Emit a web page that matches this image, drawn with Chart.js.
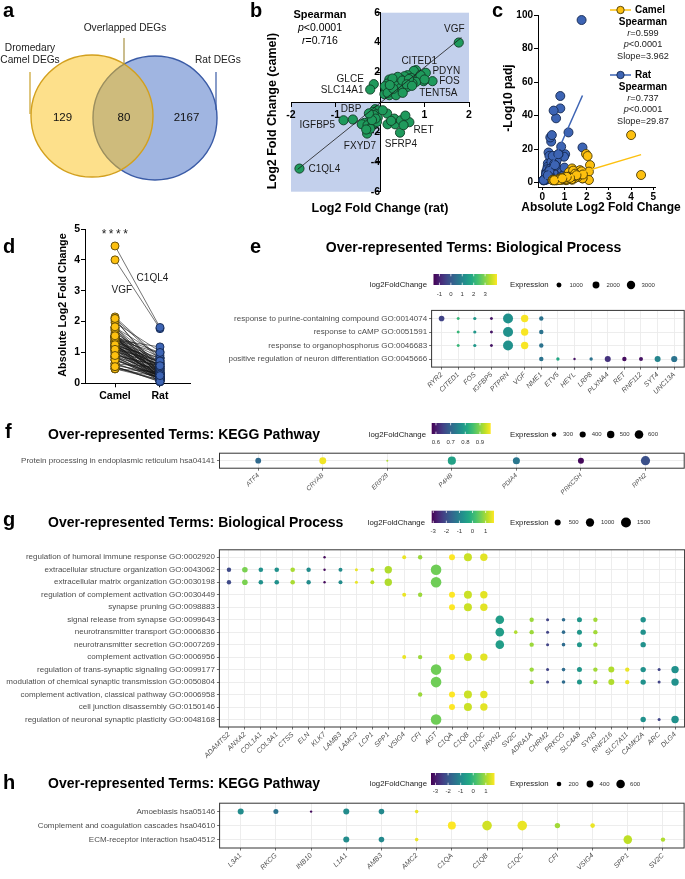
<!DOCTYPE html>
<html><head><meta charset="utf-8">
<script src="https://cdn.jsdelivr.net/npm/chart.js@4.4.1/dist/chart.umd.min.js"></script>
<style>
html,body{margin:0;padding:0;background:#fff;}
#page{position:relative;width:685px;height:879px;overflow:hidden;font-family:'Liberation Sans',Arial,Helvetica,sans-serif;background:#fff;}
canvas{position:absolute;}
.t{position:absolute;white-space:nowrap;}
</style></head><body><div id="page"></div>
<script>
// ================= DATA =================
// a: Venn
const vennSets = ['Dromedary Camel DEGs', 'Overlapped DEGs', 'Rat DEGs'];
const vennCounts = [129, 80, 2167]; // camel only, overlapped, rat only

// b/c/d: the 80 overlapped DEGs (same order in every array)
const labelledGenes = ['VGF','C1QL4','GLCE','SLC14A1','CITED1','PDYN','FOS','TENT5A','IGFBP5','DBP','FXYD7','SFRP4','RET'];
const ratLFC = [1.77,-1.81,-0.14,-0.22,0.81,1.03,1.18,0.98,-0.82,-0.61,-0.29,0.45,0.66,
 0.76,0.62,0.55,0.70,0.85,0.91,0.47,0.40,0.55,0.66,0.81,0.21,0.17,0.28,0.36,0.43,0.55,0.25,0.13,0.10,0.32,0.47,0.21,0.36,0.62,0.73,0.32,0.40,0.28,0.11,0.51,0.17,1.00,0.50,0.65,0.30,0.60,0.22,
 -0.11,-0.05,-0.16,-0.09,-0.20,-0.05,-0.13,-0.24,-0.35,-0.41,-0.28,-0.16,-0.22,-0.31,-0.07,-0.14,-0.10,-0.18,-0.25,
 0.16,0.17,0.34,0.32,0.47,0.53,0.06,0.25,0.72,0.57];
const camelLFC = [4.00,-4.45,1.21,0.85,2.15,1.97,1.41,1.41,-1.21,-1.16,-2.10,-2.04,-1.34,
 2.10,1.81,1.74,1.63,1.52,1.81,1.52,1.30,1.30,1.36,1.36,1.52,1.25,1.07,0.98,0.85,0.92,0.76,0.85,0.54,0.58,1.14,0.47,0.47,1.03,1.25,1.36,1.70,1.59,1.07,0.63,0.63,1.52,1.45,1.55,0.90,1.20,1.15,
 -0.47,-0.54,-0.65,-0.81,-0.98,-1.03,-1.16,-1.25,-1.39,-1.48,-1.54,-1.48,-1.77,-1.83,-1.32,-0.87,-1.10,-1.20,-0.75,
 -0.76,-1.48,-1.48,-1.10,-1.21,-1.54,-0.54,-1.25,1.10,-0.90];
const camelNegLog10Padj = [28.4,4.6,3.2,2.1,10.5,17.1,5.6,3.6,4.6,3.6,6.6,15.9,8.5,
 1.6,2.6,5.6,6.6,3.6,2.6,4.6,2.0,5.0,3.0,1.8,6.0,2.4,1.5,3.2,2.8,1.9,2.2,1.7,1.4,1.6,4.2,1.5,1.8,2.5,3.8,4.8,7.5,3.4,2.0,1.7,1.4,5.0,3.0,4.0,2.3,6.2,2.7,
 1.5,1.6,1.9,2.2,2.5,3.0,3.4,4.0,7.2,4.4,3.8,2.9,6.8,4.9,2.1,2.6,1.8,3.3,2.0,
 1.6,3.9,5.4,2.4,3.1,4.5,1.5,2.9,3.5,2.6];
const ratNegLog10Padj = [97,21,2.5,3.8,51.7,17,30,15.5,7.5,13.5,6.0,9.5,5.5,
 3.6,38.4,10.5,7.0,21.5,4.0,3.0,24.5,6.5,8.0,44.3,2.0,6.5,18,27,28.4,5.0,11.5,1.6,1.5,9.0,4.5,2.4,3.2,12.0,17,16,5.0,8.5,1.8,43,3.0,9.0,6.0,13.5,4.0,10.0,7.0,
 2.0,1.4,3.5,2.2,5.0,1.5,2.8,9.5,4.2,12.5,6.8,3.3,8.0,5.5,1.7,2.6,1.9,4.8,6.0,
 3.8,5.0,8.2,7.0,16,11,1.6,4.4,17,10.5];

const bStats = {r: 0.716, p: '<0.0001'};
const bFit = {slope: 2.4, intercept: -0.06};
const cCamelStats = {r: 0.599, p: '<0.0001', slope: 3.962, intercept: -0.9};
const cRatStats = {r: 0.737, p: '<0.0001', slope: 29.87, intercept: -2.1};
const bTicksX = [-2, -1, 1, 2];
const bTicksY = [-6, -4, -2, 2, 4, 6];
const cTicksX = [0, 1, 2, 3, 4, 5];
const cTicksY = [0, 20, 40, 60, 80, 100];
const dTicksY = [0, 1, 2, 3, 4, 5];
const dGroups = ['Camel', 'Rat'];

// e: GO biological process (overlapped DEGs)
const eGenes = ['RYR2','CITED1','FOS','IGFBP5','PTPRN','VGF','NME1','ETV5','HEYL','LRP8','PLXNA4','RET','RNF112','SYT4','UNC13A'];
const eLog2FC = [-0.4,2.15,1.41,-1.21,1.26,4.0,0.6,1.8,-1.25,0.6,-0.7,-1.34,-1.25,1.0,0.6];
const eExpr = [1280,324,380,324,4330,2300,760,430,190,430,1480,760,620,1480,1590];
const eTerms = ['response to purine-containing compound GO:0014074','response to cAMP GO:0051591','response to organophosphorus GO:0046683','positive regulation of neuron differentiation GO:0045666'];
const eTermGenes = [
  ['RYR2','CITED1','FOS','IGFBP5','PTPRN','VGF','NME1'],
  ['CITED1','FOS','IGFBP5','PTPRN','VGF','NME1'],
  ['CITED1','FOS','IGFBP5','PTPRN','VGF','NME1'],
  ['NME1','ETV5','HEYL','LRP8','PLXNA4','RET','RNF112','SYT4','UNC13A']];
const eColorTicks = [-1, 0, 1, 2, 3];
const eSizeTicks = [1000, 2000, 3000];

// f: KEGG
const fGenes = ['ATF4','CRYAB','ERP29','P4HB','PDIA4','PRKCSH','RPN2'];
const fLog2FC = [0.71,0.965,0.925,0.80,0.73,0.58,0.67];
const fExpr = [380,460,160,560,470,390,650];
const fTerms = ['Protein processing in endoplasmic reticulum hsa04141'];
const fTermGenes = [['ATF4','CRYAB','ERP29','P4HB','PDIA4','PRKCSH','RPN2']];
const fColorTicks = [0.6, 0.7, 0.8, 0.9];
const fSizeTicks = [300, 400, 500, 600];

// g: GO biological process
const gGenes = ['ADAMTS2','ANXA2','COL1A1','COL3A1','CTSS','ELN','KLK7','LAMB3','LAMC2','LCP1','SPP1','VSIG4','CFI','AGT','C1QA','C1QB','C1QC','NRXN2','SV2C','ADRA1A','CHRM2','PRKCG','SLC4A8','SYN3','RNF216','SLC7A11','CAMK2A','ARC','DLG4'];
const gLog2FC = [-2.07,0.69,-0.74,-0.74,1.02,-0.84,-3.0,-0.84,1.5,1.16,1.07,1.5,0.93,0.59,1.64,1.26,1.45,-0.5,1.07,0.93,-2.17,-1.45,-0.64,0.97,1.07,1.5,-0.74,-2.17,-0.74];
const gExpr = [250,430,277,277,277,250,58,200,102,200,790,200,250,1700,500,935,790,1090,157,250,102,157,334,250,500,250,397,102,790];
const gTerms = ['regulation of humoral immune response GO:0002920','extracellular structure organization GO:0043062','extracellular matrix organization GO:0030198','regulation of complement activation GO:0030449','synapse pruning GO:0098883','signal release from synapse GO:0099643','neurotransmitter transport GO:0006836','neurotransmitter secretion GO:0007269','complement activation GO:0006956','regulation of trans-synaptic signaling GO:0099177','modulation of chemical synaptic transmission GO:0050804','complement activation, classical pathway GO:0006958','cell junction disassembly GO:0150146','regulation of neuronal synaptic plasticity GO:0048168'];
const gTermGenes = [
  ['KLK7','VSIG4','CFI','C1QA','C1QB','C1QC'],
  ['ADAMTS2','ANXA2','COL1A1','COL3A1','CTSS','ELN','KLK7','LAMB3','LAMC2','LCP1','SPP1','AGT'],
  ['ADAMTS2','ANXA2','COL1A1','COL3A1','CTSS','ELN','KLK7','LAMB3','LAMC2','LCP1','SPP1','AGT'],
  ['VSIG4','CFI','C1QA','C1QB','C1QC'],
  ['C1QA','C1QB','C1QC'],
  ['NRXN2','ADRA1A','CHRM2','PRKCG','SLC4A8','SYN3','CAMK2A'],
  ['NRXN2','SV2C','ADRA1A','CHRM2','PRKCG','SLC4A8','SYN3','CAMK2A'],
  ['NRXN2','ADRA1A','CHRM2','PRKCG','SLC4A8','SYN3','CAMK2A'],
  ['VSIG4','CFI','C1QA','C1QB','C1QC'],
  ['AGT','ADRA1A','CHRM2','PRKCG','SLC4A8','SYN3','RNF216','SLC7A11','CAMK2A','ARC','DLG4'],
  ['AGT','ADRA1A','CHRM2','PRKCG','SLC4A8','SYN3','RNF216','SLC7A11','CAMK2A','ARC','DLG4'],
  ['CFI','C1QA','C1QB','C1QC'],
  ['C1QA','C1QB','C1QC'],
  ['AGT','CAMK2A','ARC','DLG4']];
const gColorTicks = [-3, -2, -1, 0, 1];
const gSizeTicks = [500, 1000, 1500];

// h: KEGG
const hGenes = ['L3A1','RKCG','INB10','L1A1','AMB3','AMC2','C1QA','C1QB','C1QC','CFI','VSIG4','SPP1','SV2C'];
const hLog2FC = [-0.94,-1.44,-3.2,-0.94,-1.0,1.54,1.69,1.34,1.54,0.98,1.54,1.19,1.08];
const hExpr = [317,232,70,317,279,132,528,737,737,262,199,600,184];
const hTerms = ['Amoebiasis hsa05146','Complement and coagulation cascades hsa04610','ECM-receptor interaction hsa04512'];
const hTermGenes = [
  ['L3A1','RKCG','INB10','L1A1','AMB3','AMC2'],
  ['C1QA','C1QB','C1QC','CFI','VSIG4'],
  ['L1A1','AMB3','AMC2','SPP1','SV2C']];
const hColorTicks = [-3, -2, -1, 0, 1];
const hSizeTicks = [200, 400, 600];

// ================= HELPERS =================
const FONT = "'Liberation Sans', Arial, Helvetica, sans-serif";
Chart.defaults.font.family = FONT;
Chart.defaults.color = '#000';
const page = document.getElementById('page');

function mkCanvas(R) {
  const c = document.createElement('canvas');
  c.width = R.w; c.height = R.h;
  Object.assign(c.style, {left: R.x + 'px', top: R.y + 'px', width: R.w + 'px', height: R.h + 'px'});
  page.appendChild(c);
  return c;
}
function T(html, x, y, o = {}) {
  const s = o.size || 10;
  const d = document.createElement('div');
  d.className = 't';
  d.innerHTML = html;
  d.style.fontSize = s + 'px';
  d.style.lineHeight = s + 'px';
  if (o.bold) d.style.fontWeight = 'bold';
  if (o.italic) d.style.fontStyle = 'italic';
  d.style.color = o.color || '#000';
  if (o.ls) d.style.letterSpacing = o.ls + 'px';
  d.style.left = x + 'px';
  if (o.rotate) {
    d.style.top = y + 'px';
    d.style.transform = `translate(-50%,-50%) rotate(${o.rotate}deg)`;
  } else {
    d.style.top = (y - 0.8465 * s) + 'px';
    const ax = o.align === 'center' ? '-50%' : (o.align === 'right' ? '-100%' : '0');
    d.style.transform = `translateX(${ax})`;
  }
  page.appendChild(d);
}
const BASE = () => ({responsive: false, maintainAspectRatio: false, animation: false, devicePixelRatio: 1, events: [],
  plugins: {legend: {display: false}, tooltip: {enabled: false}}});
const LAYOUT = p => ({autoPadding: false, padding: p});

const VIR = ['#440154','#482475','#414487','#355f8d','#2a788e','#21918c','#22a884','#44bf70','#7ad151','#bddf26','#fde725']
  .map(h => [parseInt(h.slice(1,3),16), parseInt(h.slice(3,5),16), parseInt(h.slice(5,7),16)]);
function viridis(t) {
  t = Math.max(0, Math.min(1, t));
  const n = VIR.length - 1, i = Math.min(n - 1, Math.floor(t * n)), f = t * n - i, a = VIR[i], b = VIR[i + 1];
  return `rgb(${Math.round(a[0] + (b[0] - a[0]) * f)},${Math.round(a[1] + (b[1] - a[1]) * f)},${Math.round(a[2] + (b[2] - a[2]) * f)})`;
}
function annotPlugin(items, font, color) {
  return {id: 'annot', afterDatasetsDraw(ch) {
    const {ctx, scales: {x, y}} = ch;
    ctx.save(); ctx.font = font; ctx.fillStyle = color; ctx.textBaseline = 'middle';
    items.forEach(it => { ctx.textAlign = it.align || 'center'; ctx.fillText(it.t, x.getPixelForValue(it.x), y.getPixelForValue(it.y)); });
    ctx.restore();
  }};
}
const fixedTicks = vals => s => { s.ticks = vals.map(v => ({value: v})); };

// ================= PANEL a : Venn =================
(function () {
  const R = {x: 0, y: 0, w: 230, h: 205};
  const cv = mkCanvas(R);
  const L = {left: {x: 92, y: 116, r: 61}, right: {x: 155, y: 118, r: 62}};
  const lead = (x, y0, y1, col) => ({type: 'line', data: [{x, y: y0}, {x, y: y1}], borderColor: col, borderWidth: 1.2, pointRadius: 0, order: 0, clip: false});
  new Chart(cv, {
    type: 'bubble',
    data: {datasets: [
      lead(30, 72, 114, '#c9a12c'), lead(124, 38, 65, '#a89245'), lead(216, 72, 110, '#3b5ca6'),
      {data: [{x: L.left.x, y: L.left.y, r: L.left.r}], backgroundColor: 'rgba(251,193,23,0.5)', borderColor: '#d3a01d', borderWidth: 1.4, order: 1, clip: false},
      {data: [{x: L.right.x, y: L.right.y, r: L.right.r}], backgroundColor: 'rgb(160,181,225)', borderColor: '#3a5ba6', borderWidth: 1.4, order: 2, clip: false}
    ]},
    options: Object.assign(BASE(), {layout: LAYOUT(0), scales: {
      x: {type: 'linear', display: false, min: 0, max: R.w},
      y: {type: 'linear', display: false, min: 0, max: R.h, reverse: true}}})
  });
  T('Dromedary', 30, 51.5, {size: 10.2, align: 'center', color: '#222'});
  T('Camel DEGs', 30, 63.8, {size: 10.2, align: 'center', color: '#222'});
  T(vennSets[1], 125, 32, {size: 10.2, align: 'center', color: '#222'});
  T(vennSets[2], 195, 63.8, {size: 10.2, color: '#222'});
  T(String(vennCounts[0]), 62.5, 122, {size: 11.5, align: 'center', color: '#111'});
  T(String(vennCounts[1]), 124, 122, {size: 11.5, align: 'center', color: '#111'});
  T(String(vennCounts[2]), 186.5, 122, {size: 11.5, align: 'center', color: '#111'});
})();

// ================= PANEL b =================
const bLabels = [
  {t: 'VGF', x: 1.67, y: 4.87}, {t: 'CITED1', x: 0.88, y: 2.75}, {t: 'PDYN', x: 1.49, y: 2.08},
  {t: 'FOS', x: 1.56, y: 1.41}, {t: 'TENT5A', x: 1.31, y: 0.6}, {t: 'GLCE', x: -0.67, y: 1.54},
  {t: 'SLC14A1', x: -0.85, y: 0.8}, {t: 'DBP', x: -0.65, y: -0.49}, {t: 'IGFBP5', x: -1.41, y: -1.54},
  {t: 'FXYD7', x: -0.45, y: -2.95}, {t: 'SFRP4', x: 0.47, y: -2.82}, {t: 'RET', x: 0.98, y: -1.86},
  {t: 'C1QL4', x: -1.25, y: -4.5}];
(function () {
  const R = {x: 230, y: 0, w: 250, h: 220};
  const cv = mkCanvas(R);
  const pts = ratLFC.map((v, i) => ({x: v, y: camelLFC[i]}));
  const fit = [Math.min(...ratLFC) - 0.04, Math.max(...ratLFC) + 0.06].map(x => ({x, y: bFit.slope * x + bFit.intercept}));
  const shade = {id: 'shade', beforeDraw(ch) {
    const {ctx, scales: {x, y}} = ch;
    const X = v => x.getPixelForValue(v), Y = v => y.getPixelForValue(v);
    ctx.save(); ctx.fillStyle = '#c3d0ec';
    ctx.fillRect(X(0), Y(y.max), X(x.max) - X(0), Y(0) - Y(y.max));
    ctx.fillRect(X(x.min), Y(0), X(0) - X(x.min), Y(y.min) - Y(0));
    ctx.restore();
  }};
  const axisCommon = {
    ticks: {font: {size: 10.5, weight: 'bold'}, color: '#000', padding: 3, maxRotation: 0},
    grid: {drawOnChartArea: false, drawTicks: true, tickLength: 4, color: '#000', lineWidth: 1},
    border: {display: true, color: '#000', width: 1}};
  new Chart(cv, {
    type: 'scatter',
    data: {datasets: [
      {type: 'line', data: fit, borderColor: '#1a1a1a', borderWidth: 0.8, pointRadius: 0, order: 0, clip: false},
      {data: pts, pointRadius: 4.6, pointBackgroundColor: '#1f9a5c', pointBorderColor: '#123d26', pointBorderWidth: 0.9, order: 1, clip: false}
    ]},
    options: Object.assign(BASE(), {layout: LAYOUT({left: 61, right: 11, top: 12.7, bottom: 28.3}), scales: {
      x: Object.assign({type: 'linear', min: -2, max: 2, position: {y: 0}, afterBuildTicks: fixedTicks(bTicksX)}, axisCommon),
      y: Object.assign({type: 'linear', min: -6, max: 6, position: {x: 0}, afterBuildTicks: fixedTicks(bTicksY)}, axisCommon)
    }}),
    plugins: [shade, annotPlugin(bLabels, `10px ${FONT}`, '#1a1a1a')]
  });
  T('Spearman', 320, 18, {size: 11, bold: true, align: 'center'});
  T(`<i>p</i>${bStats.p.replace('<', '&lt;')}`, 320, 31, {size: 10.5, align: 'center'});
  T(`<i>r</i>=${bStats.r}`, 320, 44, {size: 10.5, align: 'center'});
  T('Log2 Fold Change (camel)', 271.5, 111, {size: 12.5, bold: true, rotate: -90});
  T('Log2 Fold Change (rat)', 380, 212.8, {size: 12.5, bold: true, align: 'center'});
})();

// ================= PANEL c =================
(function () {
  const R = {x: 455, y: 0, w: 230, h: 215};
  const cv = mkCanvas(R);
  const cam = camelLFC.map((v, i) => ({x: Math.abs(v), y: camelNegLog10Padj[i]}));
  const rat = ratLFC.map((v, i) => ({x: Math.abs(v), y: ratNegLog10Padj[i]}));
  const fitLine = (arr, st) => { const xs = arr.map(p => p.x); return [Math.min(...xs), Math.max(...xs)].map(x => ({x, y: st.slope * x + st.intercept})); };
  const YEL = '#fdc00f', BLU = '#3d64b4';
  const marker = {id: 'mk', afterDraw(ch) {
    const ctx = ch.ctx;
    [[10, YEL, '#4a3a05'], [75, BLU, '#142850']].forEach(([y, c, b]) => {
      ctx.save(); ctx.strokeStyle = c; ctx.lineWidth = 1.5;
      ctx.beginPath(); ctx.moveTo(610 - R.x, y); ctx.lineTo(631 - R.x, y); ctx.stroke();
      ctx.beginPath(); ctx.arc(620.5 - R.x, y, 3.7, 0, Math.PI * 2); ctx.fillStyle = c; ctx.fill();
      ctx.lineWidth = 0.9; ctx.strokeStyle = b; ctx.stroke(); ctx.restore();
    });
  }};
  const ax = (tl) => ({ticks: {font: {size: 10, weight: 'bold'}, color: '#000', padding: 1, maxRotation: 0},
    grid: {drawOnChartArea: false, drawTicks: true, tickLength: tl, color: '#000', lineWidth: 1},
    border: {display: true, color: '#000', width: 1}});
  new Chart(cv, {
    type: 'scatter',
    data: {datasets: [
      {type: 'line', data: fitLine(cam, cCamelStats), borderColor: YEL, borderWidth: 1.5, pointRadius: 0, order: 0, clip: false},
      {type: 'line', data: fitLine(rat, cRatStats), borderColor: BLU, borderWidth: 1.5, pointRadius: 0, order: 0, clip: false},
      {data: cam, pointRadius: 4.5, pointBackgroundColor: YEL, pointBorderColor: '#4a3a05', pointBorderWidth: 0.9, order: 1, clip: false},
      {data: rat, pointRadius: 4.5, pointBackgroundColor: BLU, pointBorderColor: '#142850', pointBorderWidth: 0.9, order: 2, clip: false}
    ]},
    options: Object.assign(BASE(), {layout: LAYOUT({left: 53, right: 30, top: 15, bottom: 8}), scales: {
      x: Object.assign({type: 'linear', min: -0.194, max: 5.077, afterBuildTicks: fixedTicks(cTicksX), afterFit: s => { s.height = 20; }}, ax(3)),
      y: Object.assign({type: 'linear', min: -2.56, max: 100, afterBuildTicks: fixedTicks(cTicksY), afterFit: s => { s.width = 30; }}, ax(4))
    }}),
    plugins: [marker]
  });
  T('-Log10 padj', 508.3, 98, {size: 12, bold: true, rotate: -90});
  T('Absolute Log2 Fold Change', 601, 211, {size: 12, bold: true, align: 'center'});
  const stat = (name, st, y0) => {
    T(name, 635, y0 + 3.6, {size: 10, bold: true});
    T('Spearman', 643, y0 + 15.3, {size: 10, bold: true, align: 'center'});
    T(`<i>r</i>=${st.r}`, 643, y0 + 26.6, {size: 9.2, align: 'center', color: '#222'});
    T(`<i>p</i>${st.p.replace('<', '&lt;')}`, 643, y0 + 37.6, {size: 9.2, align: 'center', color: '#222'});
    T(`Slope=${st.slope}`, 643, y0 + 49.3, {size: 9.2, align: 'center', color: '#222'});
  };
  stat('Camel', cCamelStats, 10);
  stat('Rat', cRatStats, 75);
})();

// ================= PANEL d =================
(function () {
  const R = {x: 0, y: 215, w: 200, h: 200};
  const cv = mkCanvas(R);
  const cam = camelLFC.map(v => ({x: 0, y: Math.abs(v)}));
  const rat = ratLFC.map(v => ({x: 1, y: Math.abs(v)}));
  const links = [];
  camelLFC.forEach((v, i) => { links.push({x: 0, y: Math.abs(v)}, {x: 1, y: Math.abs(ratLFC[i])}, {x: 0.5, y: null}); });
  const ax = {ticks: {font: {size: 10.5, weight: 'bold'}, color: '#000', maxRotation: 0},
    grid: {drawOnChartArea: false, drawTicks: true, tickLength: 4, color: '#000', lineWidth: 1},
    border: {display: true, color: '#000', width: 1}};
  const dAnn = [{t: 'VGF', x: 0.15, y: 3.0}, {t: 'C1QL4', x: 0.48, y: 3.4, align: 'left'}];
  new Chart(cv, {
    type: 'scatter',
    data: {datasets: [
      {type: 'line', data: links, borderColor: '#151515', borderWidth: 0.6, pointRadius: 0, spanGaps: false, order: 3, clip: false},
      {data: cam, pointRadius: 4, pointBackgroundColor: '#fdc00f', pointBorderColor: '#5a4606', pointBorderWidth: 0.9, order: 1, clip: false},
      {data: rat, pointRadius: 4, pointBackgroundColor: '#3d64b4', pointBorderColor: '#142850', pointBorderWidth: 0.9, order: 2, clip: false}
    ]},
    options: Object.assign(BASE(), {layout: LAYOUT({left: 0, right: 10, top: 14, bottom: 11.7}), scales: {
      x: Object.assign({}, ax, {type: 'linear', min: -0.667, max: 1.667, afterBuildTicks: fixedTicks([0, 1]), afterFit: s => { s.height = 20; },
        ticks: Object.assign({}, ax.ticks, {padding: 3, callback: v => dGroups[v]})}),
      y: Object.assign({}, ax, {type: 'linear', min: 0, max: 5, afterBuildTicks: fixedTicks(dTicksY), afterFit: s => { s.width = 85; },
        ticks: Object.assign({}, ax.ticks, {padding: 1})})
    }}),
    plugins: [annotPlugin(dAnn, `10px ${FONT}`, '#1a1a1a')]
  });
  T('Absolute Log2 Fold Change', 61.7, 305, {size: 10.8, bold: true, rotate: -90});
  T('****', 116, 238, {size: 12, align: 'center', ls: 2.5, color: '#222'});
})();

// ================= DOT PLOTS e f g h =================
function dotPlot(P) {
  const R = P.rect, B = P.box, L = P.legend;
  const cv = mkCanvas(R);
  const pts = [];
  P.termGenes.forEach((gs, ti) => gs.forEach(g => pts.push({x: P.genes.indexOf(g), y: ti})));
  const span = P.cRange[1] - P.cRange[0];
  const colorOf = gi => viridis((P.lfc[gi] - P.cRange[0]) / span);
  const radOf = e => Math.max(0.9, P.size[0] + P.size[1] * Math.sqrt(e));
  const box = {id: 'box', afterDatasetsDraw(ch) {
    const a = ch.chartArea, ctx = ch.ctx;
    ctx.save(); ctx.strokeStyle = '#333'; ctx.lineWidth = 1;
    ctx.strokeRect(a.left, a.top, a.right - a.left, a.bottom - a.top); ctx.restore();
  }};
  const legend = {id: 'dleg', afterDraw(ch) {
    const ctx = ch.ctx, ox = R.x, oy = R.y;
    ctx.save();
    ctx.font = `7.8px ${FONT}`; ctx.fillStyle = '#1a1a1a'; ctx.textBaseline = 'middle';
    ctx.textAlign = 'right'; ctx.fillText('log2FoldChange', L.titleRight - ox, L.cy - oy);
    const [bx0, bx1, by0, by1] = L.bar;
    const grad = ctx.createLinearGradient(bx0 - ox, 0, bx1 - ox, 0);
    for (let i = 0; i <= 20; i++) grad.addColorStop(i / 20, viridis(i / 20));
    ctx.fillStyle = grad; ctx.fillRect(bx0 - ox, by0 - oy, bx1 - bx0, by1 - by0);
    ctx.font = `6px ${FONT}`; ctx.textAlign = 'center';
    P.colorTicks.forEach(v => {
      const px = bx0 + (v - P.cRange[0]) / span * (bx1 - bx0) - ox;
      ctx.strokeStyle = '#fff'; ctx.lineWidth = 0.7;
      ctx.beginPath(); ctx.moveTo(px, by0 - oy); ctx.lineTo(px, by0 - oy + 2.3);
      ctx.moveTo(px, by1 - oy); ctx.lineTo(px, by1 - oy - 2.3); ctx.stroke();
      ctx.fillStyle = '#333'; ctx.fillText(String(v), px, L.tickY - oy);
    });
    ctx.font = `7.8px ${FONT}`; ctx.fillStyle = '#1a1a1a'; ctx.textAlign = 'left';
    ctx.fillText('Expression', L.exprX - ox, L.cy - oy);
    ctx.font = `6px ${FONT}`;
    P.sizeTicks.forEach((v, i) => {
      ctx.fillStyle = '#000'; ctx.beginPath(); ctx.arc(L.dots[i] - ox, L.cy - oy, radOf(v), 0, Math.PI * 2); ctx.fill();
      ctx.fillStyle = '#333'; ctx.fillText(String(v), L.dots[i] + L.lblOff - ox, L.cy - oy);
    });
    ctx.restore();
  }};
  const grid = {color: '#ebebeb', lineWidth: 0.9, drawTicks: true, tickLength: 2.5, tickColor: '#333', tickWidth: 0.7};
  new Chart(cv, {
    type: 'scatter',
    data: {datasets: [{data: pts, clip: false,
      pointRadius: c => (c.raw ? radOf(P.expr[c.raw.x]) : 2),
      pointBackgroundColor: c => (c.raw ? colorOf(c.raw.x) : '#000'),
      pointBorderWidth: 0}]},
    options: Object.assign(BASE(), {layout: LAYOUT({left: 0, top: B.t - R.y, right: R.x + R.w - B.r, bottom: 0}), scales: {
      x: {type: 'linear', min: -0.6, max: P.genes.length - 0.4, afterBuildTicks: fixedTicks(P.genes.map((g, i) => i)),
        afterFit: s => { s.height = R.y + R.h - B.b; },
        ticks: {autoSkip: false, minRotation: 45, maxRotation: 45, padding: 1, font: {size: P.xFont, style: 'italic'}, color: '#4d4d4d', callback: v => P.genes[v]},
        grid, border: {display: false}},
      y: {type: 'linear', reverse: true, min: -0.6, max: P.terms.length - 0.4, afterBuildTicks: fixedTicks(P.terms.map((t, i) => i)),
        afterFit: s => { s.width = B.l - R.x; },
        ticks: {autoSkip: false, padding: 2, font: {size: 8}, color: '#4d4d4d', callback: v => P.terms[v]},
        grid, border: {display: false}}
    }}),
    plugins: [box, legend]
  });
}

dotPlot({rect: {x: 150, y: 225, w: 535, h: 180}, box: {l: 431.6, t: 310.4, r: 684.2, b: 367.1},
  genes: eGenes, lfc: eLog2FC, expr: eExpr, terms: eTerms, termGenes: eTermGenes, cRange: [-1.52, 4.04], size: [0.18, 0.0733],
  colorTicks: eColorTicks, sizeTicks: eSizeTicks, xFont: 7,
  legend: {titleRight: 427, cy: 285, bar: [433.5, 497, 274, 285], tickY: 294.5, exprX: 510, dots: [559, 596, 631], lblOff: 10.5}});
dotPlot({rect: {x: 0, y: 415, w: 685, h: 80}, box: {l: 219.5, t: 453.2, r: 684.2, b: 468.2},
  genes: fGenes, lfc: fLog2FC, expr: fExpr, terms: fTerms, termGenes: fTermGenes, cRange: [0.571, 0.973], size: [-2.5, 0.278],
  colorTicks: fColorTicks, sizeTicks: fSizeTicks, xFont: 6.5,
  legend: {titleRight: 426, cy: 434.5, bar: [431.7, 490.7, 423, 434], tickY: 442, exprX: 510, dots: [554, 582.7, 610.7, 639], lblOff: 9}});
dotPlot({rect: {x: 0, y: 500, w: 685, h: 275}, box: {l: 219.4, t: 549.8, r: 684.6, b: 727},
  genes: gGenes, lfc: gLog2FC, expr: gExpr, terms: gTerms, termGenes: gTermGenes, cRange: [-3.12, 1.64], size: [0.27, 0.122],
  colorTicks: gColorTicks, sizeTicks: gSizeTicks, xFont: 7,
  legend: {titleRight: 425, cy: 522.5, bar: [431.7, 494, 510.7, 523], tickY: 531, exprX: 510, dots: [557.7, 590, 626], lblOff: 11}});
dotPlot({rect: {x: 0, y: 770, w: 685, h: 109}, box: {l: 219.6, t: 803.2, r: 684.1, b: 848},
  genes: hGenes, lfc: hLog2FC, expr: hExpr, terms: hTerms, termGenes: hTermGenes, cRange: [-3.36, 1.69], size: [-0.41, 0.192],
  colorTicks: hColorTicks, sizeTicks: hSizeTicks, xFont: 7,
  legend: {titleRight: 427, cy: 784, bar: [431, 494.5, 773, 785], tickY: 791, exprX: 510, dots: [559, 590, 620.6], lblOff: 9.5}});

// ================= TITLES & PANEL LETTERS =================
T('Over-represented Terms: Biological Process', 473.5, 252, {size: 14, bold: true, align: 'center'});
T('Over-represented Terms: KEGG Pathway', 48, 438.5, {size: 14, bold: true});
T('Over-represented Terms: Biological Process', 48, 526.7, {size: 14, bold: true});
T('Over-represented Terms: KEGG Pathway', 48, 787.5, {size: 14, bold: true});
[['a', 3, 17], ['b', 250, 16.7], ['c', 492, 16.7], ['d', 3, 253.3], ['e', 250, 252.7], ['f', 5, 438], ['g', 3, 526], ['h', 3, 789]]
  .forEach(([s, x, y]) => T(s, x, y, {size: 20, bold: true}));
</script></body></html>
